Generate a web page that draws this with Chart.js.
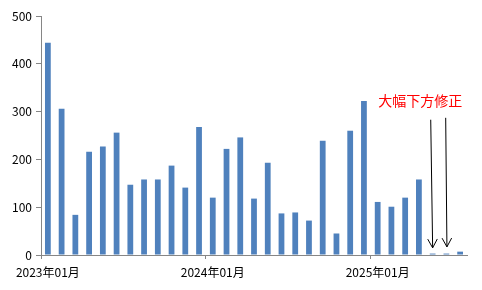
<!DOCTYPE html>
<html><head><meta charset="utf-8">
<script src="https://cdn.jsdelivr.net/npm/chart.js@4"></script>
<style>html,body{margin:0;padding:0;background:#fff}#wrap{width:482px;height:290px}</style>
</head><body><div id="wrap"><canvas id="c"></canvas></div>
<script>
const categories = [
 "2023年01月","2023年02月","2023年03月","2023年04月","2023年05月","2023年06月","2023年07月","2023年08月","2023年09月","2023年10月","2023年11月","2023年12月",
 "2024年01月","2024年02月","2024年03月","2024年04月","2024年05月","2024年06月","2024年07月","2024年08月","2024年09月","2024年10月","2024年11月","2024年12月",
 "2025年01月","2025年02月","2025年03月","2025年04月","2025年05月","2025年06月","2025年07月"];
const values = [444,306,84,216,227,256,147,158,158,187,141,268,
 120,222,246,118,193,87,89,72,239,45,260,322,
 111,101,120,158,3,3,7];
const yTicks = [0,100,200,300,400,500];
const noteText = "大幅下方修正";
const noteAt = {index:27.1, value:323};
const arrows = [
 {fromIndex:27.86, fromValue:283, toIndex:28.0, toValue:15},
 {fromIndex:28.95, fromValue:287, toIndex:29.04, toValue:17}
];
const FONT = "'Noto Sans CJK JP', sans-serif";
const axisColor = '#868686';

const notePlugin = {
  id:'note',
  afterDraw(chart){
    const ctx = chart.ctx, xs = chart.scales.x, ys = chart.scales.y;
    ctx.save();
    ctx.font = "14px " + FONT;
    ctx.fillStyle = '#ff0000';
    ctx.textAlign = 'center';
    ctx.textBaseline = 'middle';
    ctx.fillText(noteText, xs.getPixelForValue(noteAt.index), ys.getPixelForValue(noteAt.value));
    ctx.strokeStyle = '#000';
    ctx.lineWidth = 1;
    arrows.forEach(a=>{
      const x1 = xs.getPixelForValue(a.fromIndex), y1 = ys.getPixelForValue(a.fromValue);
      const x2 = xs.getPixelForValue(a.toIndex), y2 = ys.getPixelForValue(a.toValue);
      ctx.beginPath(); ctx.moveTo(x1,y1); ctx.lineTo(x2,y2); ctx.stroke();
      const ang = Math.atan2(y2-y1, x2-x1), L = 10, w = 0.5;
      ctx.beginPath();
      ctx.moveTo(x2 - L*Math.cos(ang - w), y2 - L*Math.sin(ang - w));
      ctx.lineTo(x2, y2);
      ctx.lineTo(x2 - L*Math.cos(ang + w), y2 - L*Math.sin(ang + w));
      ctx.stroke();
    });
    ctx.restore();
  }
};

new Chart(document.getElementById('c'), {
  type:'bar',
  data:{labels:categories, datasets:[{data:values, backgroundColor:'#4F81BD', borderWidth:0, categoryPercentage:1, barPercentage:0.42}]},
  options:{
    responsive:true, maintainAspectRatio:false, animation:false,
    layout:{padding:{left:0,right:15,top:16,bottom:0}},
    plugins:{legend:{display:false}, tooltip:{enabled:false}},
    scales:{
      x:{
        offset:true,
        grid:{offset:true, drawOnChartArea:false, drawTicks:true, tickLength:4,
          color:c=> (c.index!==undefined && c.index%12===0) ? axisColor : 'rgba(0,0,0,0)'},
        border:{color:axisColor, width:1},
        ticks:{autoSkip:false, maxRotation:0, minRotation:0, padding:6, color:'#000', font:{family:FONT,size:12},
          callback:function(v,i){ const l = categories[i]; return l.endsWith('01月') ? l : ''; }},
        afterFit:s=>{s.height = 35;}
      },
      y:{
        min:0, max:500,
        afterBuildTicks:s=>{ s.ticks = yTicks.map(v=>({value:v})); },
        grid:{drawOnChartArea:false, drawTicks:true, tickLength:5, color:axisColor},
        border:{color:axisColor, width:1},
        ticks:{padding:4, color:'#000', font:{family:FONT,size:12}},
        afterFit:s=>{s.width = 41;}
      }
    }
  },
  plugins:[notePlugin]
});
</script></body></html>
